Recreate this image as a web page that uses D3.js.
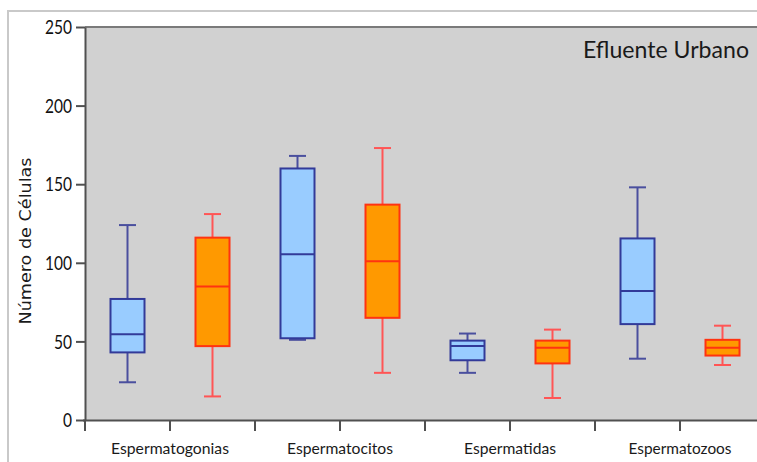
<!DOCTYPE html>
<html>
<head>
<meta charset="utf-8">
<script src="https://cdn.jsdelivr.net/npm/d3@7"></script>
<style>
  html, body { margin: 0; padding: 0; background: #ffffff; }
  svg { display: block; }
</style>
</head>
<body>
<svg id="chart" width="757" height="462"></svg>
<script>
// ---------- data ----------
const categories = ["Espermatogonias", "Espermatocitos", "Espermatidas", "Espermatozoos"];
const seriesNames = ["blue", "orange"];

const blueMin    = [24, 51, 30, 39];
const blueQ1     = [43, 52, 38, 61];
const blueMedian = [54.5, 105.5, 47, 82];
const blueQ3     = [77, 160, 50.5, 115.5];
const blueMax    = [124, 168, 55, 148];

const orangeMin    = [15, 30, 14, 35];
const orangeQ1     = [47, 65, 36, 41];
const orangeMedian = [85, 101, 46, 46];
const orangeQ3     = [116, 137, 50.5, 51];
const orangeMax    = [131, 173, 57.5, 60];

const yTicks = [0, 50, 100, 150, 200, 250];
const titleText = "Efluente Urbano";
const yTitle = "Número de Células";

// ---------- layout ----------
const svg = d3.select("#chart");
const plotLeft = 85, plotTop = 27, plotBottom = 420, plotRight = 757;

const x = d3.scaleBand().domain(categories).range([plotLeft, plotLeft + 170 * categories.length]).padding(0);
const xSub = d3.scaleBand().domain(seriesNames).range([0, x.bandwidth()]).padding(0);
const y = d3.scaleLinear().domain([0, 250]).range([plotBottom, plotTop]);

// outer frame
svg.append("rect").attr("x", 8).attr("y", 11).attr("width", 800).attr("height", 500)
  .attr("fill", "#ffffff").attr("stroke", "#c9c9c9").attr("stroke-width", 2);

// plot background
svg.append("rect").attr("x", plotLeft).attr("y", plotTop)
  .attr("width", plotRight - plotLeft + 5).attr("height", plotBottom - plotTop)
  .attr("fill", "#d1d1d1");
svg.append("line").attr("x1", plotLeft).attr("x2", plotRight + 5)
  .attr("y1", plotTop).attr("y2", plotTop)
  .attr("stroke", "#7a7a7a").attr("stroke-width", 2);

// boxes
const styles = {
  blue:   { fill: "#99ccff", stroke: "#323a99", whisker: "#4a4f9e" },
  orange: { fill: "#ff9900", stroke: "#ff3311", whisker: "#ff5555" }
};
const stats = {
  blue:   { min: blueMin, q1: blueQ1, med: blueMedian, q3: blueQ3, max: blueMax },
  orange: { min: orangeMin, q1: orangeQ1, med: orangeMedian, q3: orangeQ3, max: orangeMax }
};
const boxW = 34, capW = 17;
const boxData = [];
categories.forEach((c, i) => {
  seriesNames.forEach(s => {
    const st = stats[s];
    boxData.push({ cat: c, s, min: st.min[i], q1: st.q1[i], med: st.med[i], q3: st.q3[i], max: st.max[i] });
  });
});

const g = svg.append("g");
const boxes = g.selectAll("g.box").data(boxData).join("g").attr("class", "box")
  .attr("transform", d => `translate(${x(d.cat) + xSub(d.s) + xSub.bandwidth() / 2},0)`);

// whiskers
boxes.append("line").attr("x1", 0).attr("x2", 0)
  .attr("y1", d => y(d.max)).attr("y2", d => y(d.q3))
  .attr("stroke", d => styles[d.s].whisker).attr("stroke-width", 2);
boxes.append("line").attr("x1", 0).attr("x2", 0)
  .attr("y1", d => y(d.q1)).attr("y2", d => y(d.min))
  .attr("stroke", d => styles[d.s].whisker).attr("stroke-width", 2);
boxes.append("line").attr("x1", -capW / 2).attr("x2", capW / 2)
  .attr("y1", d => y(d.max)).attr("y2", d => y(d.max))
  .attr("stroke", d => styles[d.s].whisker).attr("stroke-width", 2);
boxes.append("line").attr("x1", -capW / 2).attr("x2", capW / 2)
  .attr("y1", d => y(d.min)).attr("y2", d => y(d.min))
  .attr("stroke", d => styles[d.s].whisker).attr("stroke-width", 2);
// box
boxes.append("rect").attr("x", -boxW / 2).attr("width", boxW)
  .attr("y", d => y(d.q3)).attr("height", d => y(d.q1) - y(d.q3))
  .attr("fill", d => styles[d.s].fill).attr("stroke", d => styles[d.s].stroke).attr("stroke-width", 2);
// median
boxes.append("line").attr("x1", -boxW / 2).attr("x2", boxW / 2)
  .attr("y1", d => y(d.med)).attr("y2", d => y(d.med))
  .attr("stroke", d => styles[d.s].stroke).attr("stroke-width", 2);

// y axis
const yAxis = svg.append("g").attr("transform", `translate(${plotLeft},0)`)
  .call(d3.axisLeft(y).tickValues(yTicks).tickSize(9).tickSizeOuter(0).tickPadding(4));
yAxis.select(".domain").attr("stroke", "#505050").attr("stroke-width", 2);
yAxis.selectAll(".tick line").attr("stroke", "#505050").attr("stroke-width", 2);
yAxis.selectAll(".tick text")
  .attr("font-family", "Lato, 'Open Sans', sans-serif").attr("font-size", 19)
  .attr("fill", "#111").attr("dy", "0.35em")
  .attr("textLength", d => String(d).length * 9).attr("lengthAdjust", "spacingAndGlyphs");

// x axis
const xAxis = svg.append("g").attr("transform", `translate(0,${plotBottom})`)
  .call(d3.axisBottom(x).tickSize(11).tickSizeOuter(0));
xAxis.select(".domain").attr("d", `M${plotLeft - 2},0.5H${plotRight + 5}`)
  .attr("stroke", "#505050").attr("stroke-width", 2);
xAxis.selectAll(".tick line").attr("stroke", "#505050").attr("stroke-width", 2);
const labelW = { "Espermatogonias": 118, "Espermatocitos": 106, "Espermatidas": 92, "Espermatozoos": 103 };
xAxis.selectAll(".tick text")
  .attr("font-family", "Lato, 'Open Sans', sans-serif").attr("font-size", 16)
  .attr("fill", "#1a1a1a").attr("y", 34).attr("dy", 0)
  .attr("textLength", d => labelW[d]).attr("lengthAdjust", "spacingAndGlyphs");
// extra ticks at band edges
xAxis.selectAll("line.edge").data(categories).join("line").attr("class", "edge")
  .attr("x1", d => x(d)).attr("x2", d => x(d)).attr("y1", 0).attr("y2", 11)
  .attr("stroke", "#505050").attr("stroke-width", 2);

// title
svg.append("text").attr("x", 749).attr("y", 58).attr("text-anchor", "end")
  .attr("font-family", "Lato, 'Open Sans', sans-serif").attr("font-size", 23)
  .attr("fill", "#1a1a1a").attr("textLength", 166).attr("lengthAdjust", "spacingAndGlyphs")
  .text(titleText);

// y title
svg.append("text").attr("transform", "translate(31,241) rotate(-90)")
  .attr("text-anchor", "middle")
  .attr("font-family", "'DejaVu Sans', 'Open Sans', sans-serif").attr("font-size", 15)
  .attr("fill", "#1a1a1a").attr("textLength", 167).attr("lengthAdjust", "spacingAndGlyphs")
  .text(yTitle);
</script>
</body>
</html>
